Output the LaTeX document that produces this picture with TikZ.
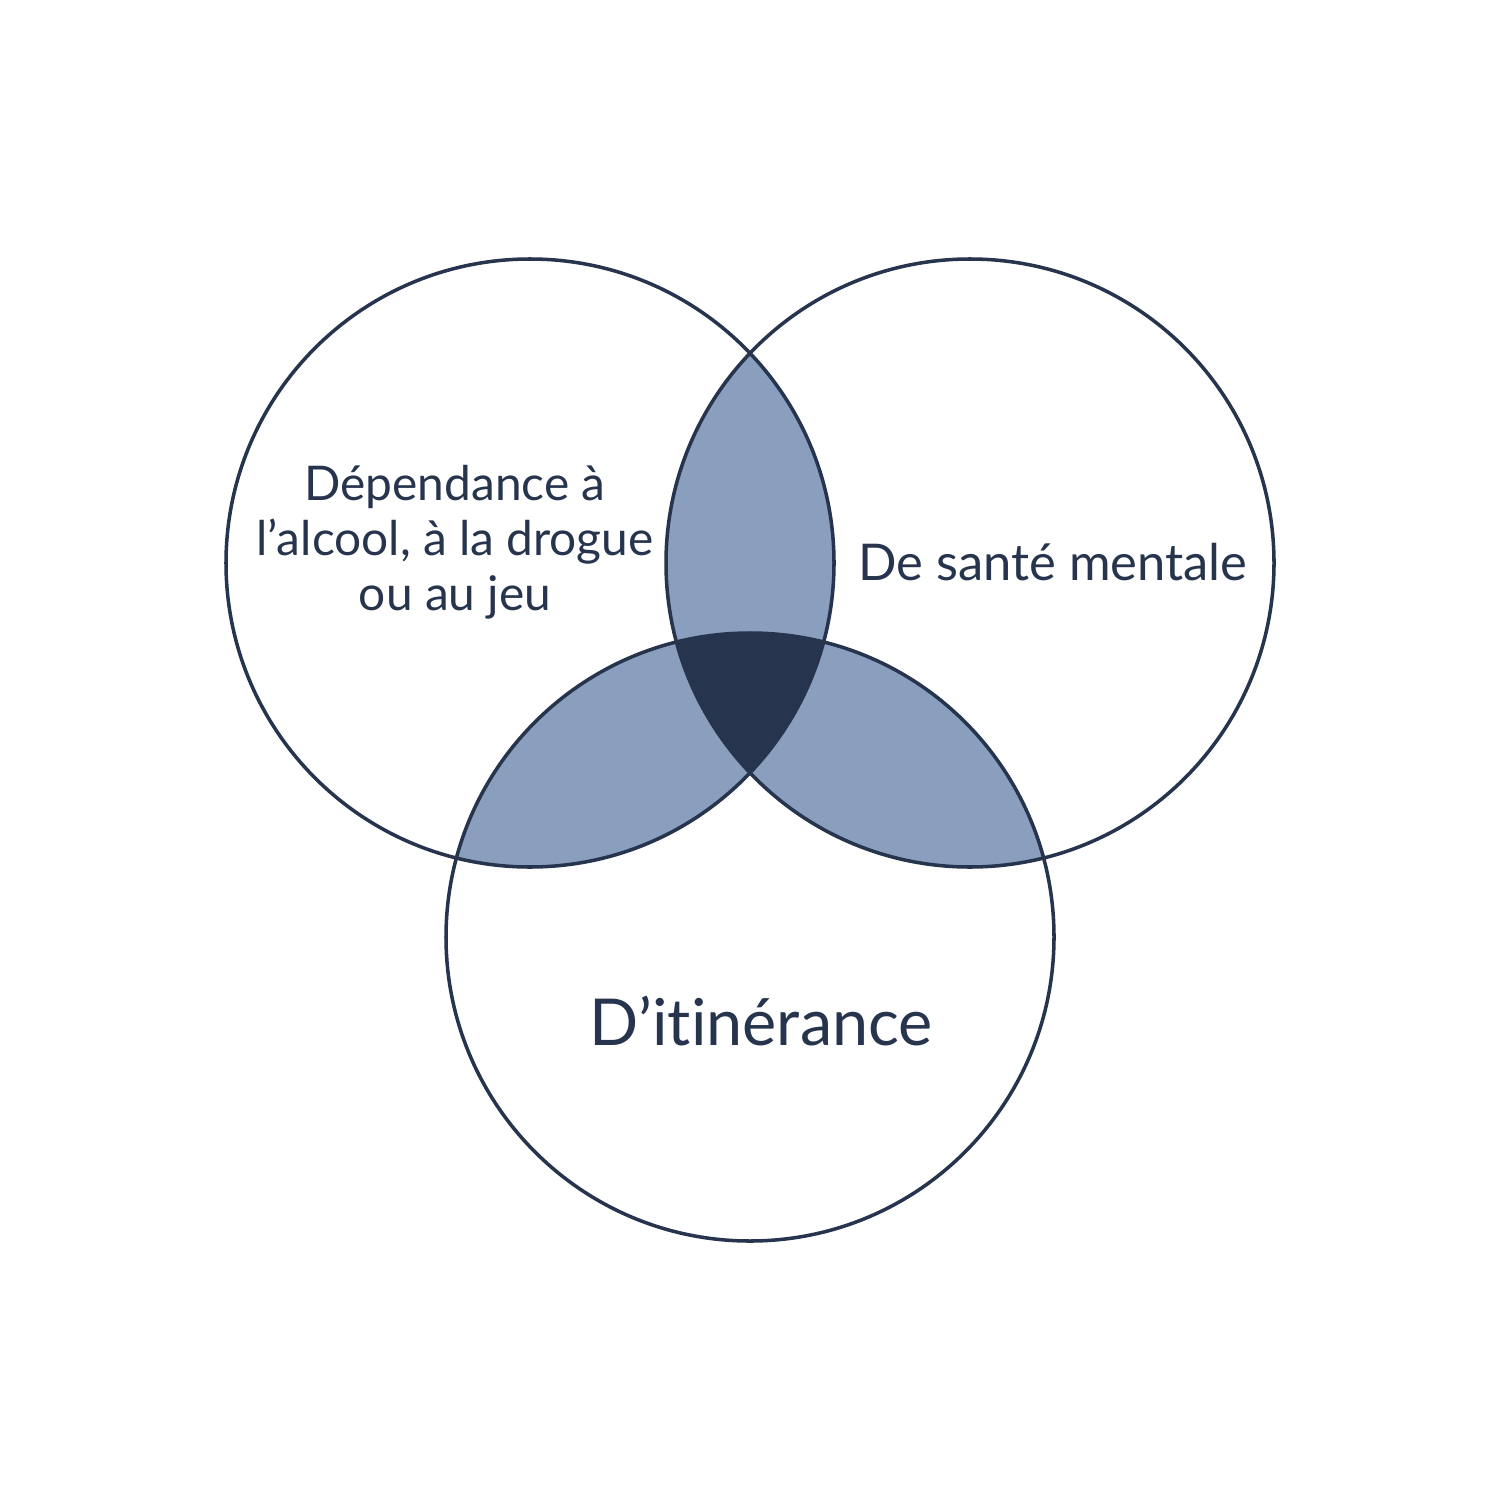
\documentclass[tikz,border=0pt]{standalone}
\usepackage{fontspec}
\setmainfont[RawFeature=-liga]{Lato}
\definecolor{navy}{HTML}{26344D}
\definecolor{lightblue}{HTML}{8A9FBD}
\begin{document}
\begin{tikzpicture}[x=0.01cm,y=-0.01cm,
  ring/.style={draw=navy,line width=1pt},
  lbl/.style={text=navy,align=center,inner sep=0pt,font=\fontsize{13.6}{15.6}\selectfont}]
\useasboundingbox (0,0) rectangle (1500,1500);
\fill[white] (0,0) rectangle (1500,1500);
\def\cA{(530,563) circle (304)}
\def\cB{(970,563) circle (304)}
\def\cC{(750,937) circle (304)}
\begin{scope}\clip \cA; \fill[lightblue] \cB; \fill[lightblue] \cC; \end{scope}
\begin{scope}\clip \cB; \fill[lightblue] \cC; \end{scope}
\begin{scope}\clip \cA; \clip \cB; \fill[navy] \cC; \end{scope}
\draw[ring] \cA; \draw[ring] \cB; \draw[ring] \cC;
\node[lbl] (la) at (455,542) {Dépendance à\\l’alcool, à la drogue\\ou au jeu};
\node[lbl,anchor=base,font=\fontsize{14.4}{16}\selectfont] (lb) at (1053,580) {De santé mentale};
\node[lbl,anchor=base,font=\fontsize{18.4}{22}\selectfont] (lc) at (761,1045) {D’itinérance};
\end{tikzpicture}
\end{document}
